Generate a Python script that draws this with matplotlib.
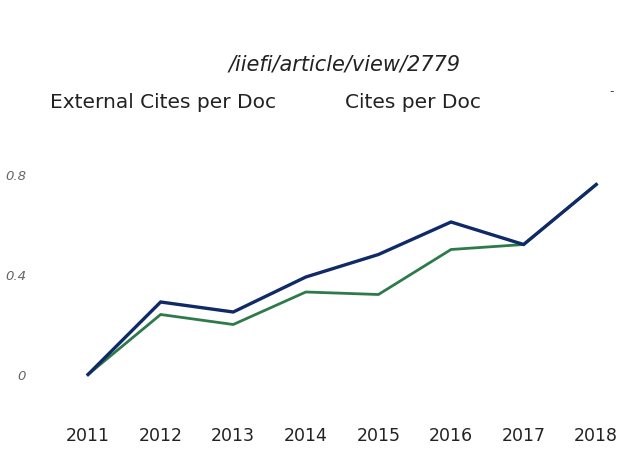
import matplotlib
matplotlib.use("Agg")
import matplotlib.pyplot as plt

plt.rcParams['font.family'] = ['DejaVu Sans']

years = [2011, 2012, 2013, 2014, 2015, 2016, 2017, 2018]
cites_per_doc = [0.01, 0.30, 0.26, 0.40, 0.49, 0.62, 0.53, 0.77]
external_cites = [0.01, 0.25, 0.21, 0.34, 0.33, 0.51, 0.53, 0.77]
yticks = [0, 0.4, 0.8]
ytick_labels = ['0', '0.4', '0.8']

fig = plt.figure(figsize=(6.18, 4.5), dpi=100)
ax = fig.add_axes([59 / 618, 73 / 450, 559 / 618, 225 / 450])

ax.plot(years, external_cites, color='#2f7a4a', linewidth=2.0, solid_joinstyle='miter')
ax.plot(years, cites_per_doc, color='#0f2a66', linewidth=2.4, solid_joinstyle='miter')

ax.set_xlim(2010.6, 2018.3)
ax.set_ylim(0, 0.9)
ax.set_xticks(years)
ax.set_xticklabels([str(y) for y in years], fontsize=12.5, color='#222222')
ax.set_yticks([])
for v, lab in zip(yticks, ytick_labels):
    ax.text(-33 / 559, v, lab, transform=ax.get_yaxis_transform(), fontsize=9.5,
            color='#666666', ha='right', va='center', style='italic')
ax.tick_params(axis='x', length=0, pad=36)
for s in ax.spines.values():
    s.set_visible(False)

fig.text(345 / 618, 1 - 65 / 450, '/iiefi/article/view/2779', fontsize=15,
         color='#222222', ha='center', va='center', style='italic')
fig.text(50 / 618, 1 - 102 / 450, 'External Cites per Doc', fontsize=14.5,
         color='#222222', ha='left', va='center')
fig.text(345 / 618, 1 - 102 / 450, 'Cites per Doc', fontsize=14.5,
         color='#222222', ha='left', va='center')
fig.text(612 / 618, 1 - 92 / 450, '-', fontsize=9, color='#444444',
         ha='center', va='center')

fig.savefig('out.png', dpi=100)
